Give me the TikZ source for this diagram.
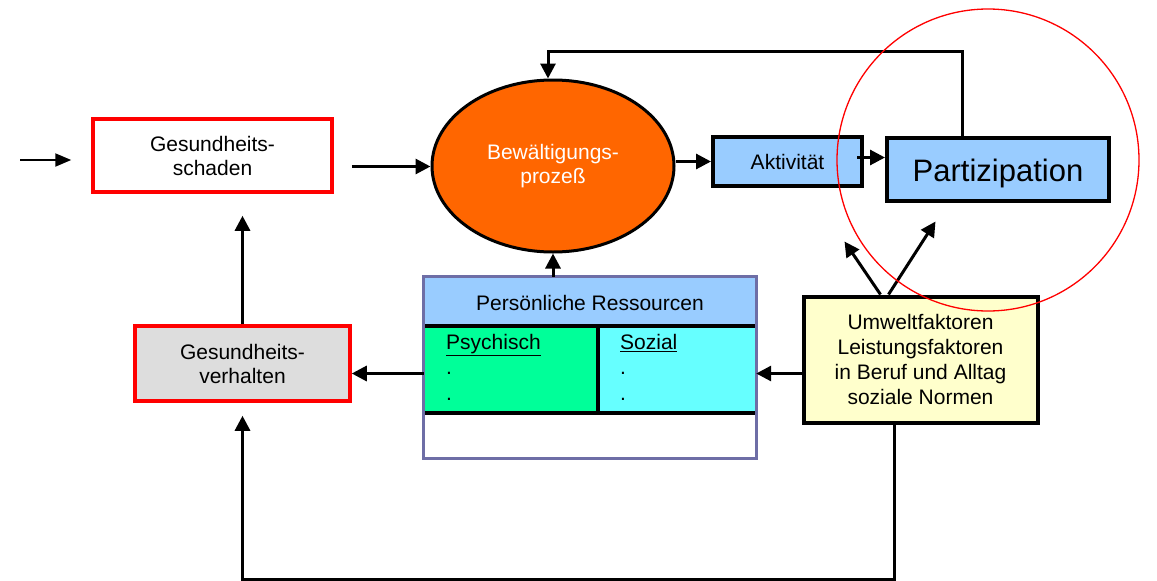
\documentclass[tikz,border=0pt]{standalone}
\usepackage{fontspec}
\setmainfont{Liberation Sans}
\usepackage{tikz}
\usetikzlibrary{arrows.meta,shapes.geometric,positioning}

\definecolor{orangefill}{HTML}{FF6600}
\definecolor{bluefill}{HTML}{99CCFF}
\definecolor{yellowfill}{HTML}{FFFFCC}
\definecolor{greyfill}{HTML}{DDDDDD}
\definecolor{greenfill}{HTML}{00FF99}
\definecolor{cyanfill}{HTML}{66FFFF}
\definecolor{resframe}{HTML}{6E6EA6}

\tikzset{
  txt/.style={font=\fontsize{21}{24}\selectfont, align=center},
  redbox/.style={txt, draw=red, line width=3.5, fill=white},
  bluebox/.style={txt, draw=black, line width=4, fill=bluefill},
  arr/.style={line width=3, -{Triangle[length=15,width=15]}},
}

\begin{document}
\begin{tikzpicture}[x=1pt,y=-1pt]
\useasboundingbox (0,0) rectangle (1157,581);

% Kasten links
\node[redbox, minimum width=239, minimum height=73] (gs) at (212.5,155.5) {Gesundheits-\\schaden};
\node[redbox, fill=greyfill, minimum width=215, minimum height=75] (gv) at (242.5,363.5) {Gesundheits-\\verhalten};

% Bewaeltigung
\node[ellipse, draw=black, line width=3, fill=orangefill, text=white, txt,
      minimum width=242, minimum height=172] (bew) at (553,166) {Bew\"altigungs-\\proze\ss};

\node[bluebox, minimum width=149, minimum height=49] (akt) at (787.5,161.5) {Aktivit\"at};
\node[bluebox, minimum width=222, minimum height=63, font=\fontsize{31}{36}\selectfont,
      text depth=2, text height=26] (par) at (998,169.5) {Partizipation};

\node[txt, draw=black, line width=4, fill=yellowfill, minimum width=234, minimum height=126,
      font=\fontsize{21}{25}\selectfont] (um) at (920.5,359.5)
  {Umweltfaktoren\\Leistungsfaktoren\\in Beruf und Alltag\\soziale Normen};

% Persoenliche Ressourcen
\node[minimum width=332, minimum height=181, fill=white] (res) at (590,367.5) {};
\fill[bluefill] (res.north west) rectangle ([yshift=-49]res.north east);
\fill[greenfill] ([yshift=-49]res.north west) rectangle ([xshift=174,yshift=45]res.south west);
\fill[cyanfill] ([xshift=174,yshift=-49]res.north west) rectangle ([yshift=45]res.south east);
\draw[line width=3.5] ([yshift=-49]res.north west) -- ([yshift=-49]res.north east);
\draw[line width=3.5] ([yshift=45]res.south west) -- ([yshift=45]res.south east);
\draw[line width=3.5] ([xshift=174,yshift=-49]res.north west) -- ([xshift=174,yshift=45]res.south west);
\draw[resframe, line width=3] (res.north west) rectangle (res.south east);
\node[txt] (reshead) at (590,303) {Pers\"onliche Ressourcen};
\node[txt, align=left, anchor=north west, inner sep=0, font=\fontsize{21}{25.5}\selectfont] (psy) at (446,334) {\underline{Psychisch}\\.\\.};
\node[txt, align=left, anchor=north west, inner sep=0, font=\fontsize{21}{25.5}\selectfont] (soz) at (620,334) {\underline{Sozial}\\.\\.};

% Pfeile
\coordinate (start) at (20,160);
\draw[line width=2, -{Triangle[length=16,width=13]}, shorten >=20] (start) -- (start -| gs.west);
\draw[arr, shorten <=18] ([yshift=-11]gs.east) -- ([yshift=-11]gs.east -| bew.west);
\draw[arr] (akt.west -| bew.east) -- (akt.west);
\draw[arr, shorten <=-7] ([yshift=4]akt.east) -- ([yshift=4]akt.east -| par.west);
\draw[arr] ([xshift=-36]par.north) -- ++(0,-85) -| ([xshift=-5]bew.north);
\draw[arr] (res.north -| bew.south) -- (bew.south);
\draw[arr] ([yshift=-6]res.west) -- ([yshift=-6]res.west -| gv.east);
\draw[arr] ([yshift=-14]um.west) -- ([yshift=-14]um.west -| res.east);
\draw[arr, shorten >=22] (gv.north) -- (gv.north |- gs.south);
\draw[arr] ([xshift=-40]um.north) -- ++(-36,-53);
\draw[arr] ([xshift=-32]um.north) -- ++(47,-73);
\draw[arr, shorten >=13] ([xshift=-26]um.south) -- ++(0,155) -| (gv.south);

% Kreis
\draw[red, line width=1.3] (988,160) circle (151);

\end{tikzpicture}
\end{document}
